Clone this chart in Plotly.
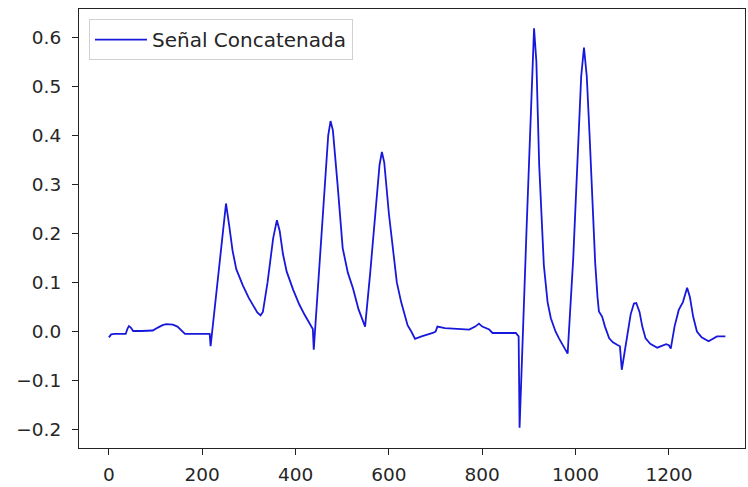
import plotly.graph_objects as go

# Sample index (x) and amplitude (y)
x_vals = [0, 5, 12, 36, 40, 43, 47, 52, 70, 94, 105, 115, 123, 137, 147, 155, 163, 190, 216, 218,
          235, 251, 258, 265, 273, 287, 300, 309, 318, 325, 330, 340, 352, 360, 366, 373, 381, 395,
          408, 420, 433, 437, 439, 455, 470, 475, 480, 490, 501, 512, 523, 535, 547, 549, 560, 572,
          580, 585, 590, 600, 608, 617, 626, 633, 640, 648, 656, 670, 685, 694, 700, 704, 720, 745,
          772, 785, 793, 800, 808, 815, 822, 850, 872, 878, 880, 895, 905, 911, 916, 922, 932, 940,
          947, 957, 965, 975, 983, 995, 1005, 1012, 1018, 1024, 1030, 1036, 1042, 1047, 1050, 1057,
          1063, 1072, 1080, 1089, 1095, 1099, 1108, 1118, 1125, 1130, 1137, 1143, 1150, 1160, 1175,
          1185, 1194, 1200, 1204, 1212, 1221, 1230, 1239, 1245, 1252, 1260, 1270, 1285, 1295, 1303,
          1310, 1321]
y_vals = [-0.012, -0.006, -0.005, -0.005, 0.006, 0.011, 0.008, 0.001, 0.001, 0.002, 0.008, 0.013,
          0.015, 0.014, 0.010, 0.003, -0.005, -0.005, -0.005, -0.030,
          0.120, 0.261, 0.215, 0.165, 0.127, 0.094, 0.068, 0.052, 0.039, 0.033, 0.040, 0.100,
          0.190, 0.227, 0.205, 0.158, 0.122, 0.085, 0.055, 0.033, 0.013, 0.005, -0.037, 0.200,
          0.400, 0.429, 0.410, 0.300, 0.170, 0.120, 0.088, 0.045, 0.013, 0.010, 0.120, 0.250,
          0.340, 0.366, 0.345, 0.240, 0.169, 0.100, 0.061, 0.035, 0.013, 0.000, -0.015, -0.010,
          -0.006, -0.003, 0.000, 0.010, 0.007, 0.005, 0.004, 0.010, 0.016, 0.010, 0.007, 0.004,
          -0.003, -0.003, -0.003, -0.010, -0.196, 0.210, 0.470, 0.618, 0.550, 0.340, 0.135, 0.060,
          0.027, 0.000, -0.015, -0.032, -0.045, 0.150, 0.380, 0.520, 0.579, 0.520, 0.400, 0.270,
          0.140, 0.070, 0.041, 0.030, 0.010, -0.014, -0.022, -0.027, -0.030, -0.078, -0.020, 0.035,
          0.057, 0.058, 0.040, 0.010, -0.014, -0.025, -0.033, -0.030, -0.026, -0.028, -0.035, 0.010,
          0.044, 0.060, 0.089, 0.070, 0.030, 0.000, -0.012, -0.020, -0.015, -0.010, -0.010, -0.010]

series_name = "Señal Concatenada"
x_ticks = [0, 200, 400, 600, 800, 1000, 1200]
y_ticks = [-0.2, -0.1, 0.0, 0.1, 0.2, 0.3, 0.4, 0.5, 0.6]

fig = go.Figure()
fig.add_trace(go.Scatter(x=x_vals, y=y_vals, mode="lines", name=series_name,
                         line=dict(color="#1818dc", width=1.8), showlegend=True))

font = dict(family="DejaVu Sans", size=18.5, color="#262626")
fig.update_layout(
    width=748, height=487,
    margin=dict(l=79, r=2, t=9, b=36),
    paper_bgcolor="white", plot_bgcolor="white",
    font=font,
    showlegend=True,
    legend=dict(x=0.015, y=0.977, xanchor="left", yanchor="top",
                bgcolor="rgba(255,255,255,0.8)", bordercolor="#d0d0d0", borderwidth=1,
                font=dict(family="DejaVu Sans", size=20, color="#262626"),
                itemwidth=52),
)
fig.update_xaxes(range=[-64, 1363], tickvals=x_ticks, ticktext=[str(v) for v in x_ticks],
                 showgrid=False, zeroline=False, showline=True, mirror=True,
                 linecolor="#222222", linewidth=1.2, ticks="outside", ticklen=6,
                 tickcolor="#222222", tickfont=font, ticklabelstandoff=4)
fig.update_yaxes(range=[-0.2375, 0.6575], tickvals=y_ticks, tickformat=".1f",
                 showgrid=False, zeroline=False, showline=True, mirror=True,
                 linecolor="#222222", linewidth=1.2, ticks="outside", ticklen=6,
                 tickcolor="#222222", tickfont=font, ticklabelstandoff=7)

fig.write_html("out.html")
